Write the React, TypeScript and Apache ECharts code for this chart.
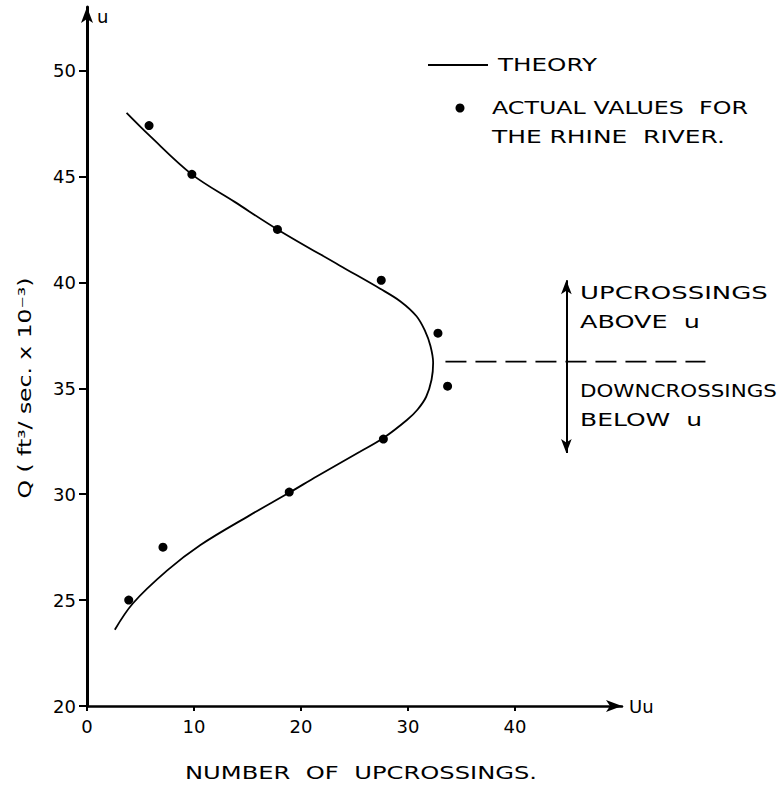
import React, { useEffect, useRef } from "react";
import * as echarts from "echarts";

// ---- data ----
const xTicks = [0, 10, 20, 30, 40];
const yTicks = [20, 25, 30, 35, 40, 45, 50];

// theory curve, traced from top end to bottom end
const theoryX = [3.7, 5.9, 9.8, 13.8, 17.8, 23.6, 27.4, 29.3, 30.8, 31.6, 32.1, 32.35, 32.2, 31.7, 30.9, 29.9, 27.7, 25.5, 21.5, 19.0, 15.2, 10.6, 7.5, 4.3, 2.6];
const theoryY = [48.0, 46.9, 45.1, 43.8, 42.5, 40.8, 39.7, 39.1, 38.4, 37.7, 37.0, 36.2, 35.4, 34.6, 34.0, 33.5, 32.65, 32.0, 30.85, 30.1, 29.0, 27.6, 26.4, 24.85, 23.6];

// actual values for the Rhine river
const actualX = [5.8, 9.8, 17.8, 27.5, 32.8, 33.7, 27.7, 18.9, 7.1, 3.9];
const actualY = [47.4, 45.1, 42.5, 40.1, 37.6, 35.1, 32.6, 30.1, 27.5, 25.0];

// level u (dashed line) and crossing arrow
const levelU = 36.26;
const levelLineX = [33.5, 57.8];
const arrowX = 44.8;
const arrowY = [40.1, 31.95];

const FONT = "DejaVu Sans";

function measure(text: string, size: number): number {
  const c = document.createElement("canvas").getContext("2d");
  if (!c) return text.length * size * 0.65;
  c.font = `${size}px "${FONT}"`;
  return c.measureText(text).width;
}

function stretched(text: string, left: number, right: number, cy: number, size: number) {
  const w = measure(text, size);
  return {
    type: "text",
    x: left,
    y: cy,
    scaleX: (right - left) / w,
    silent: true,
    style: {
      text,
      fontSize: size,
      fontFamily: FONT,
      fill: "#000",
      align: "left",
      verticalAlign: "middle",
    },
  };
}

export default function App() {
  const ref = useRef<HTMLDivElement>(null);

  useEffect(() => {
    if (!ref.current) return;
    const chart = echarts.init(ref.current, undefined, { renderer: "svg" });

    const yTitle = "Q ( ft³/ sec. x 10⁻³)";
    const yTitleW = measure(yTitle, 17);

    const graphics: any[] = [
      // legend
      { type: "line", silent: true, shape: { x1: 428, y1: 65, x2: 488, y2: 65 }, style: { stroke: "#000", lineWidth: 1.8 } },
      stretched("THEORY", 498, 597, 65, 18),
      { type: "circle", silent: true, shape: { cx: 460, cy: 108, r: 4.5 }, style: { fill: "#000" } },
      stretched("ACTUAL VALUES  FOR", 492, 748, 108, 18),
      stretched("THE RHINE  RIVER.", 492, 725, 137, 18),
      // annotations
      stretched("UPCROSSINGS", 580, 768, 293, 18),
      stretched("ABOVE  u", 580, 700, 322, 18),
      stretched("DOWNCROSSINGS", 580, 777, 391, 18),
      stretched("BELOW  u", 580, 702, 420, 18),
      // axis names
      stretched("NUMBER  OF  UPCROSSINGS.", 185, 537, 773, 18),
      {
        type: "text",
        x: 25,
        y: 388,
        rotation: Math.PI / 2,
        scaleX: 221 / yTitleW,
        silent: true,
        style: { text: yTitle, fontSize: 17, fontFamily: FONT, fill: "#000", align: "center", verticalAlign: "middle" },
      },
      { type: "text", x: 97, y: 16, silent: true, style: { text: "u", fontSize: 18, fontFamily: FONT, fill: "#000", align: "left", verticalAlign: "middle" } },
      { type: "text", x: 629, y: 706, silent: true, style: { text: "Uu", fontSize: 18, fontFamily: FONT, fill: "#000", align: "left", verticalAlign: "middle" } },
    ];

    const option: any = {
      animation: false,
      backgroundColor: "#fff",
      grid: { left: 87, right: 156, top: 7, bottom: 83, containLabel: false },
      xAxis: {
        type: "value",
        min: 0,
        max: 50,
        interval: 10,
        axisLine: {
          show: true,
          onZero: false,
          symbol: ["none", "arrow"],
          symbolSize: [9, 16],
          lineStyle: { color: "#000", width: 2.5 },
        },
        axisTick: {
          show: true,
          length: 5,
          customValues: xTicks,
          lineStyle: { color: "#000", width: 2 },
        },
        axisLabel: {
          color: "#000",
          fontSize: 18,
          fontFamily: FONT,
          margin: 11,
          customValues: xTicks,
        },
        splitLine: { show: false },
      },
      yAxis: {
        type: "value",
        min: 20,
        max: 53,
        interval: 5,
        axisLine: {
          show: true,
          onZero: false,
          symbol: ["none", "arrow"],
          symbolSize: [9, 16],
          lineStyle: { color: "#000", width: 3 },
        },
        axisTick: {
          show: true,
          length: 8,
          customValues: yTicks,
          lineStyle: { color: "#000", width: 2 },
        },
        axisLabel: {
          color: "#000",
          fontSize: 18,
          fontFamily: FONT,
          margin: 11,
          customValues: yTicks,
        },
        splitLine: { show: false },
      },
      series: [
        {
          name: "THEORY",
          type: "line",
          data: theoryX.map((x, i) => [x, theoryY[i]]),
          smooth: 0.35,
          symbol: "none",
          lineStyle: { color: "#000", width: 1.8 },
        },
        {
          name: "ACTUAL",
          type: "scatter",
          data: actualX.map((x, i) => [x, actualY[i]]),
          symbol: "circle",
          symbolSize: 9,
          itemStyle: { color: "#000", opacity: 1 },
        },
        {
          name: "arrow",
          type: "line",
          data: [],
          markLine: {
            silent: true,
            symbol: ["arrow", "arrow"],
            symbolSize: [8, 14],
            label: { show: false },
            lineStyle: { color: "#000", width: 2, type: "solid" },
            data: [[{ coord: [arrowX, arrowY[0]] }, { coord: [arrowX, arrowY[1]] }]],
          },
        },
      ],
      graphic: graphics,
    };

    chart.setOption(option);

    // dashed level line extends beyond the axis end: place it through the axis scales
    const p1 = chart.convertToPixel({ gridIndex: 0 }, [levelLineX[0], levelU]) as number[];
    const p2 = chart.convertToPixel({ gridIndex: 0 }, [levelLineX[1], levelU]) as number[];
    chart.setOption({
      graphic: [
        ...graphics,
        {
          type: "line",
          silent: true,
          shape: { x1: p1[0], y1: p1[1], x2: p2[0], y2: p2[1] },
          style: { stroke: "#000", lineWidth: 1.8, lineDash: [21, 9] },
        },
      ],
    });

    return () => chart.dispose();
  }, []);

  return (
    <div
      ref={ref}
      style={{ position: "fixed", left: 0, top: 0, width: 778, height: 789, background: "#fff" }}
    />
  );
}
